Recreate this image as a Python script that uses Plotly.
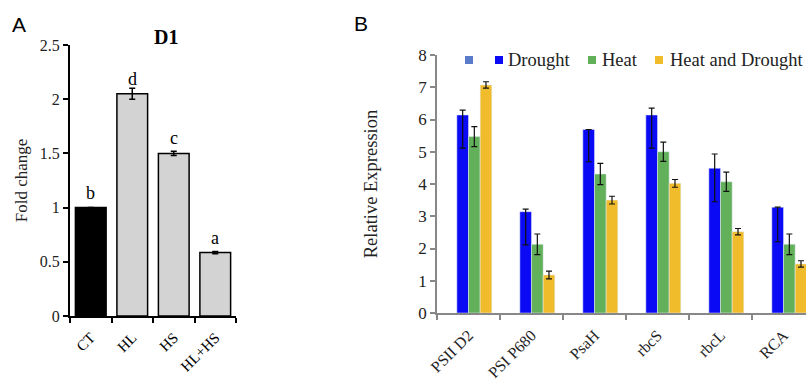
import plotly.graph_objects as go

W, H = 806, 381

# ---- Panel A data ----
a_cats = ["CT", "HL", "HS", "HL+HS"]
a_vals = [1.0, 2.05, 1.50, 0.585]
a_err = [0.0, 0.05, 0.02, 0.01]
a_letters = ["b", "d", "c", "a"]
a_colors = ["#000000", "#D3D3D3", "#D3D3D3", "#D3D3D3"]

# ---- Panel B data ----
b_cats = ["PSII D2", "PSI P680", "PsaH", "rbcS", "rbcL", "RCA"]
series_names = ["", "Drought", "Heat", "Heat and Drought"]
series_colors = ["#5A7BC9", "#0A0AF5", "#62B05A", "#F0BC2C"]
empty_series = [None] * 6
drought = [6.14, 3.14, 5.69, 6.14, 4.49, 3.28]
drought_plus = [0.15, 0.08, 0.0, 0.21, 0.44, 0.0]
drought_minus = [1.03, 1.03, 1.0, 1.03, 1.04, 1.07]
heat = [5.47, 2.13, 4.31, 5.0, 4.07, 2.13]
heat_err = [0.31, 0.32, 0.33, 0.3, 0.3, 0.32]
heat_drought = [7.07, 1.18, 3.5, 4.02, 2.52, 1.52]
hd_err = [0.1, 0.12, 0.12, 0.12, 0.1, 0.1]

SERIF = "Liberation Serif"
SANS = "Liberation Sans"


def px_x(p):
    return p / W


def px_y(p):
    return 1 - p / H


fig = go.Figure()

# Panel A bars
fig.add_trace(go.Bar(
    x=a_cats, y=a_vals, xaxis="x", yaxis="y",
    marker=dict(color=a_colors, line=dict(color="#000000", width=1.5)),
    error_y=dict(type="data", array=a_err, color="#000000", thickness=1.5, width=3),
    showlegend=False,
))

# Panel B bars
b_values = [empty_series, drought, heat, heat_drought]
b_errs = [
    None,
    dict(type="data", array=drought_plus, arrayminus=drought_minus, symmetric=False),
    dict(type="data", array=heat_err),
    dict(type="data", array=hd_err),
]
for name, color, vals, err in zip(series_names, series_colors, b_values, b_errs):
    kw = {}
    if err is not None:
        err.update(color="#111111", thickness=1.2, width=3)
        kw["error_y"] = err
    fig.add_trace(go.Bar(x=b_cats, y=vals, name=name or " ", xaxis="x2", yaxis="y2",
                         marker=dict(color=color), showlegend=False, **kw))

annotations = []
for c, v, t in zip(a_cats, a_vals, a_letters):
    annotations.append(dict(x=c, y=v, xref="x", yref="y", text=t, showarrow=False,
                            yanchor="middle", yshift=15,
                            font=dict(family=SERIF, size=18, color="#000000")))
annotations += [
    dict(x=px_x(166), y=px_y(37), xref="paper", yref="paper", text="<b>D1</b>", showarrow=False,
         xanchor="center", yanchor="middle",
         font=dict(family=SERIF, size=20, color="#000000")),
    dict(x=px_x(19), y=px_y(25), xref="paper", yref="paper", text="A", showarrow=False,
         xanchor="center", yanchor="middle",
         font=dict(family=SANS, size=21, color="#000000")),
    dict(x=px_x(361), y=px_y(23), xref="paper", yref="paper", text="B", showarrow=False,
         xanchor="center", yanchor="middle",
         font=dict(family=SANS, size=21, color="#000000")),
]

# Manual legend for panel B
legend_sq_left = [465, 495, 588, 655]
legend_text_left = [470, 506, 600, 668]
legend_cy = 60
shapes = []
for name, color, sx, tx in zip(series_names, series_colors, legend_sq_left, legend_text_left):
    shapes.append(dict(type="rect", xref="paper", yref="paper",
                       x0=px_x(sx), x1=px_x(sx + 8), y0=px_y(legend_cy + 4), y1=px_y(legend_cy - 4),
                       fillcolor=color, line=dict(width=0)))
    if name:
        annotations.append(dict(x=px_x(tx), y=px_y(legend_cy), xref="paper", yref="paper",
                                text=name, showarrow=False, xanchor="left", yanchor="middle",
                                font=dict(family=SERIF, size=18.5, color="#222222")))

fig.update_layout(
    width=W, height=H,
    margin=dict(l=0, r=0, t=0, b=0, autoexpand=False),
    paper_bgcolor="white", plot_bgcolor="white",
    barmode="group",
    bargap=0.26, bargroupgap=0.0,
    showlegend=False,
    annotations=annotations,
    shapes=shapes,
    xaxis=dict(domain=[px_x(70), px_x(236)], range=[-0.5, 3.5], anchor="y", automargin=False,
               showline=True, linecolor="#000000", linewidth=2,
               ticks="outside", tickson="boundaries", ticklen=5, tickwidth=2, tickcolor="#000000",
               tickangle=-45, ticklabelstandoff=5,
               tickfont=dict(family=SERIF, size=15, color="#000000"),
               showgrid=False, zeroline=False),
    yaxis=dict(domain=[px_y(316), px_y(45)], range=[0, 2.5], anchor="x", automargin=False,
               showline=True, linecolor="#000000", linewidth=2,
               ticks="outside", ticklen=5, tickwidth=2, tickcolor="#000000",
               tickvals=[0, 0.5, 1, 1.5, 2, 2.5], ticktext=["0", "0.5", "1", "1.5", "2", "2.5"],
               tickfont=dict(family=SERIF, size=16, color="#222222"),
               title=dict(text="Fold change", font=dict(family=SERIF, size=17, color="#222222"), standoff=8),
               showgrid=False, zeroline=False),
    xaxis2=dict(domain=[px_x(437), 1.0], range=[-0.5, 5.357], anchor="y2", automargin=False,
                showline=True, linecolor="#888888", linewidth=1.5,
                ticks="outside", tickson="boundaries", ticklen=5, tickwidth=1.5, tickcolor="#888888",
                tickangle=-45, ticklabelstandoff=5,
                tickfont=dict(family=SERIF, size=16, color="#222222"),
                showgrid=False, zeroline=False),
    yaxis2=dict(domain=[px_y(313), px_y(55)], range=[0, 8], anchor="x2", automargin=False,
                showline=True, linecolor="#888888", linewidth=1.5,
                ticks="outside", ticklen=5, tickwidth=1.5, tickcolor="#888888",
                dtick=1, tickfont=dict(family=SERIF, size=17, color="#222222"),
                title=dict(text="Relative Expression", font=dict(family=SERIF, size=18.5, color="#222222"), standoff=36),
                showgrid=False, zeroline=False),
)

fig.write_html("out.html")
